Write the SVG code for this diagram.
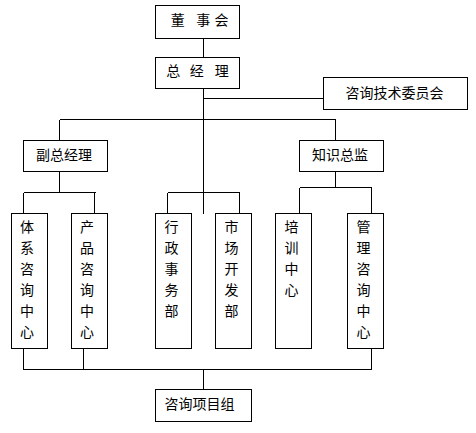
<svg xmlns="http://www.w3.org/2000/svg" width="476" height="433" viewBox="0 0 476 433">
<style>
rect{fill:#fff;stroke:#000;stroke-width:1}
line{stroke:#000;stroke-width:1}
g{shape-rendering:crispEdges}
text{font-family:"Noto Sans CJK SC","Liberation Sans",sans-serif;font-size:14px;fill:#000;text-anchor:middle}
</style>
<g id="connectors">
<line x1="203.5" y1="38.5" x2="203.5" y2="57.5"/>
<line x1="203.5" y1="88.5" x2="203.5" y2="213.5"/>
<line x1="203.5" y1="98.5" x2="323.5" y2="98.5"/>
<line x1="59.5" y1="119.5" x2="335.5" y2="119.5"/>
<line x1="59.5" y1="119.5" x2="59.5" y2="140.5"/>
<line x1="335.5" y1="119.5" x2="335.5" y2="140.5"/>
<line x1="59.5" y1="171.5" x2="59.5" y2="192.5"/>
<line x1="23.5" y1="192.5" x2="95.5" y2="192.5"/>
<line x1="23.5" y1="192.5" x2="23.5" y2="213.5"/>
<line x1="94.5" y1="192.5" x2="94.5" y2="213.5"/>
<line x1="167.5" y1="192.5" x2="239.5" y2="192.5"/>
<line x1="167.5" y1="192.5" x2="167.5" y2="213.5"/>
<line x1="239.5" y1="192.5" x2="239.5" y2="213.5"/>
<line x1="335.5" y1="171.5" x2="335.5" y2="187.5"/>
<line x1="299.5" y1="187.5" x2="371.5" y2="187.5"/>
<line x1="299.5" y1="187.5" x2="299.5" y2="213.5"/>
<line x1="371.5" y1="187.5" x2="371.5" y2="213.5"/>
<line x1="23.5" y1="348.5" x2="23.5" y2="369.5"/>
<line x1="83.5" y1="348.5" x2="83.5" y2="369.5"/>
<line x1="371.5" y1="348.5" x2="371.5" y2="369.5"/>
<line x1="23.5" y1="369.5" x2="371.5" y2="369.5"/>
<line x1="203.5" y1="369.5" x2="203.5" y2="389.5"/>
</g>
<g id="board"><rect x="155.5" y="5.5" width="84" height="33"/><text y="25"><tspan x="177.7">董</tspan><tspan x="203.3">事</tspan><tspan x="221.5">会</tspan></text></g>
<g id="gm"><rect x="155.5" y="57.5" width="84" height="31"/><text y="76"><tspan x="173.3">总</tspan><tspan x="196.7">经</tspan><tspan x="221.7">理</tspan></text></g>
<g id="committee"><rect x="323.5" y="77.5" width="144" height="32"/><text x="394.5" y="98">咨询技术委员会</text></g>
<g id="vgm"><rect x="23.5" y="140.5" width="84" height="31"/><text x="64" y="160">副总经理</text></g>
<g id="cko"><rect x="299.5" y="140.5" width="84" height="31"/><text x="340" y="160">知识总监</text></g>
<g id="system"><rect x="11.5" y="213.5" width="36" height="135"/><text><tspan x="27" y="231.5">体</tspan><tspan x="27" dy="21">系</tspan><tspan x="27" dy="21">咨</tspan><tspan x="27" dy="21">询</tspan><tspan x="27" dy="21">中</tspan><tspan x="27" dy="21">心</tspan></text></g>
<g id="product"><rect x="71.5" y="213.5" width="36" height="135"/><text><tspan x="87" y="231.5">产</tspan><tspan x="87" dy="21">品</tspan><tspan x="87" dy="21">咨</tspan><tspan x="87" dy="21">询</tspan><tspan x="87" dy="21">中</tspan><tspan x="87" dy="21">心</tspan></text></g>
<g id="admin"><rect x="155.5" y="213.5" width="36" height="135"/><text><tspan x="171.5" y="231.5">行</tspan><tspan x="171.5" dy="21">政</tspan><tspan x="171.5" dy="21">事</tspan><tspan x="171.5" dy="21">务</tspan><tspan x="171.5" dy="21">部</tspan></text></g>
<g id="market"><rect x="215.5" y="213.5" width="36" height="135"/><text><tspan x="231.5" y="231.5">市</tspan><tspan x="231.5" dy="21">场</tspan><tspan x="231.5" dy="21">开</tspan><tspan x="231.5" dy="21">发</tspan><tspan x="231.5" dy="21">部</tspan></text></g>
<g id="training"><rect x="275.5" y="213.5" width="36" height="135"/><text><tspan x="291.5" y="231.5">培</tspan><tspan x="291.5" dy="21">训</tspan><tspan x="291.5" dy="21">中</tspan><tspan x="291.5" dy="21">心</tspan></text></g>
<g id="mgmt"><rect x="347.5" y="213.5" width="36" height="135"/><text><tspan x="363.5" y="231.5">管</tspan><tspan x="363.5" dy="21">理</tspan><tspan x="363.5" dy="21">咨</tspan><tspan x="363.5" dy="21">询</tspan><tspan x="363.5" dy="21">中</tspan><tspan x="363.5" dy="21">心</tspan></text></g>
<g id="project"><rect x="155.5" y="389.5" width="96" height="32"/><text x="199.5" y="409">咨询项目组</text></g>
</svg>
